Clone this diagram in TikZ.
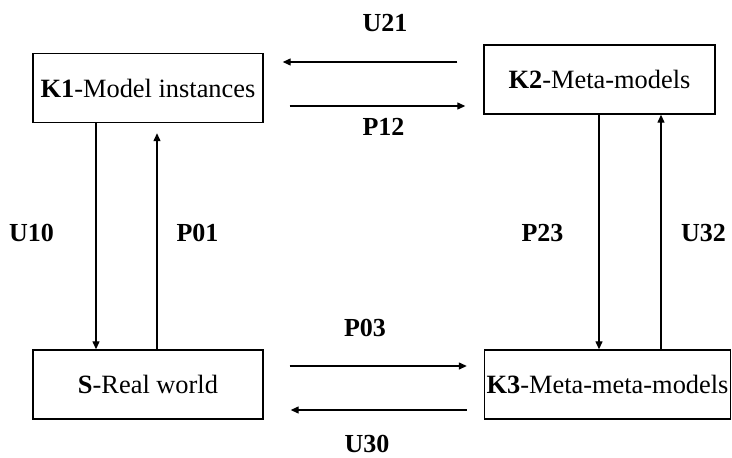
\documentclass[tikz,border=0pt]{standalone}
\usepackage{fontspec}
\setmainfont{Liberation Serif}
\usetikzlibrary{arrows.meta,calc}
\begin{document}
\begin{tikzpicture}[x=1pt,y=-1pt,
  box/.style={draw,line width=1.4pt,minimum width=#1,minimum height=69pt,
    inner sep=0pt,font=\fontsize{26.4}{30}\selectfont},
  link/.style={line width=1.3pt,-{Triangle[length=8pt,width=7pt]}},
  tag/.style={inner sep=0pt,font=\fontsize{26}{30}\selectfont\bfseries}]
\useasboundingbox (0,0) rectangle (732,458);

% levels of the modelling hierarchy
\node[box=230pt] (K1) at (148,88)      {\textbf{K1}-Model instances};
\node[box=231pt] (K2) at (599.5,79.5)  {\textbf{K2}-Meta-models};
\node[box=230pt] (S)  at (148,384.5)   {\textbf{S}-Real world};
\node[box=246pt] (K3) at (607.5,384.5) {\textbf{K3}-Meta-meta-models};

% horizontal transitions
\draw[link] ($(K2.west)+(-26,-17.5)$) -- ($(K1.east)+(19,-26)$);
\draw[link] ($(K1.east)+(26,18)$) -- ($(K2.west)+(-18,26.5)$);
\draw[link] ($(S.east)+(26,-18.5)$) -- ($(K3.west)+(-17,-18.5)$);
\draw[link] ($(K3.west)+(-17,25.5)$) -- ($(S.east)+(27,25.5)$);

% vertical transitions
\draw[link] ($(K1.south)+(-52,0)$) -- ($(S.north)+(-52,0)$);
\draw[link] ($(S.north)+(9,0)$) -- ($(K1.south)+(9,10)$);
\draw[link] ($(K2.south)+(-0.5,0)$) -- ($(K3.north)+(-8.5,0)$);
\draw[link] ($(K3.north)+(53.5,0)$) -- ($(K2.south)+(61.5,0)$);

% transition labels
\node[tag] (u21) at (385,23)    {U21};
\node[tag] (p12) at (383.5,127) {P12};
\node[tag] (u10) at (31.5,233)  {U10};
\node[tag] (p01) at (197.5,233) {P01};
\node[tag] (p23) at (542.5,233) {P23};
\node[tag] (u32) at (703.5,233) {U32};
\node[tag] (p03) at (365,328)   {P03};
\node[tag] (u30) at (367,444)   {U30};
\end{tikzpicture}
\end{document}
